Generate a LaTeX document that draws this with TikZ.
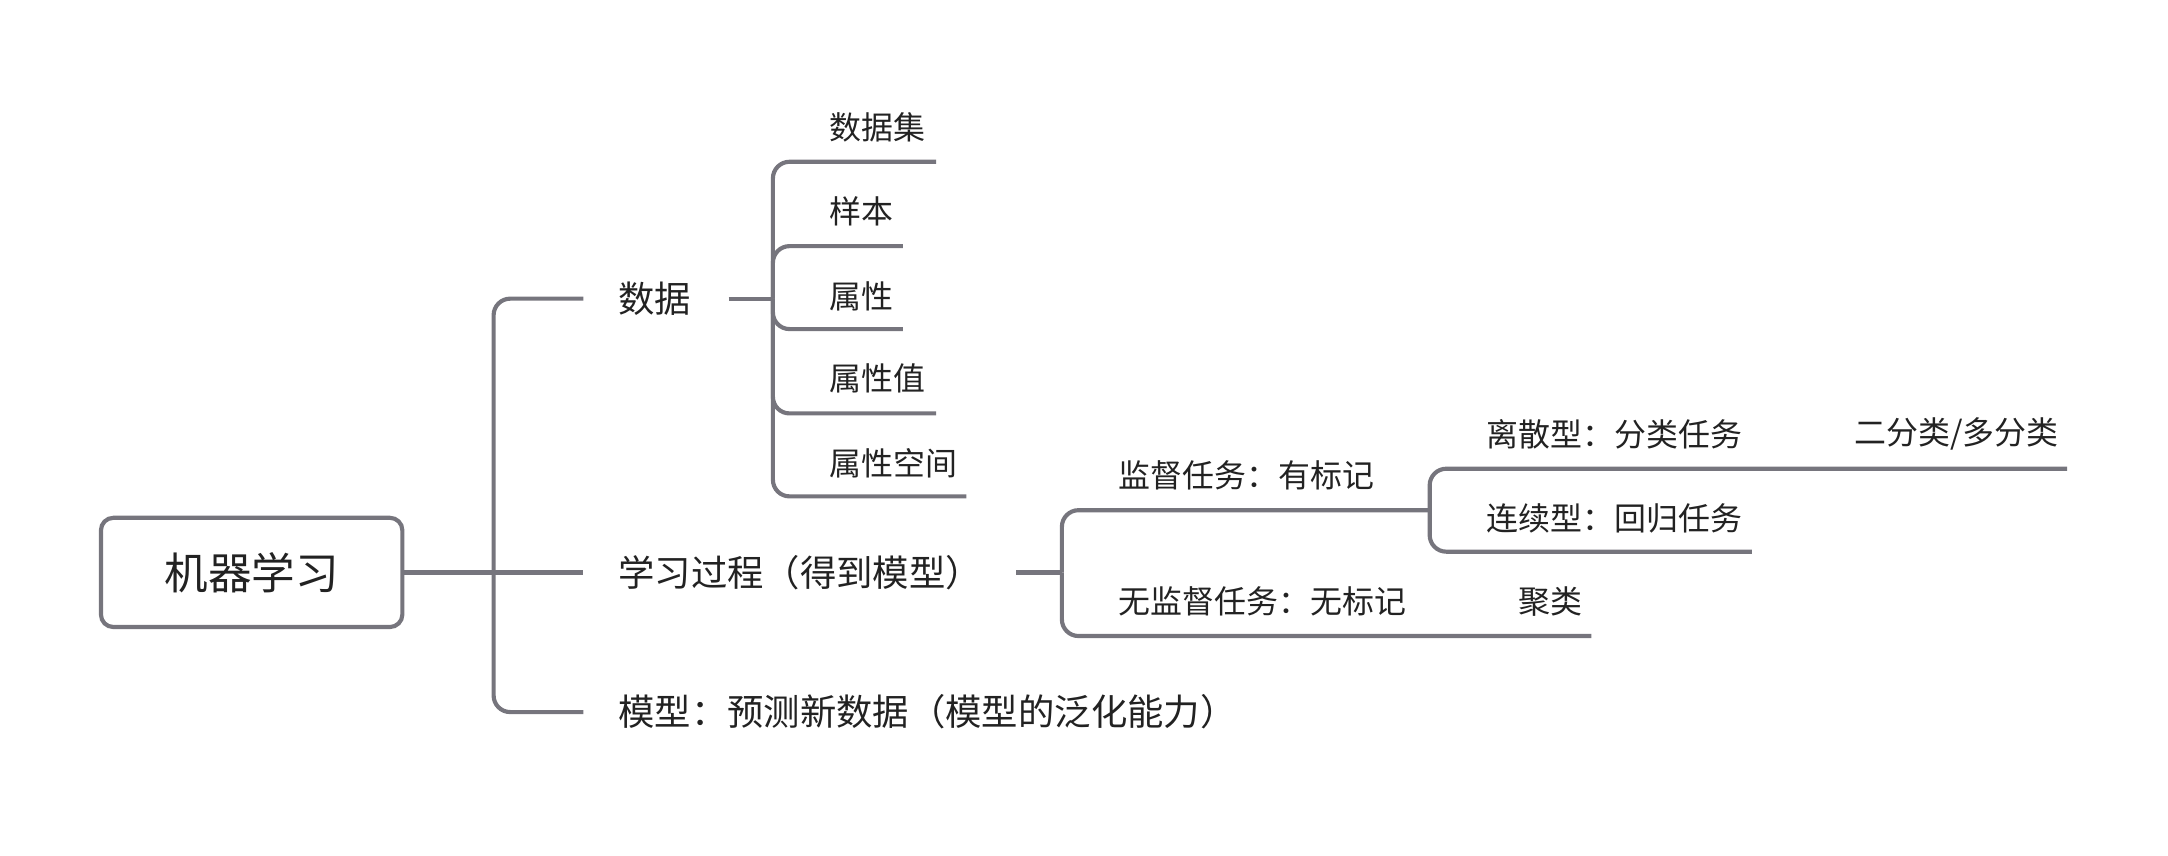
\documentclass[tikz,border=0pt]{standalone}
\usepackage{fontspec}
\setmainfont{Noto Sans CJK SC}
\definecolor{linec}{RGB}{118,117,125}
\definecolor{textc}{RGB}{34,34,34}
\begin{document}
\begin{tikzpicture}[x=1pt,y=-1pt,
  conn/.style={draw=linec,line width=3pt,rounded corners=12pt},
  lab/.style={inner sep=0pt,anchor=west,text=textc,font=\fontsize{23.1}{27}\selectfont},
  labone/.style={lab,font=\fontsize{26.3}{30}\selectfont},
  rootbox/.style={draw=linec,line width=3pt,rounded corners=9pt,minimum width=218pt,minimum height=79pt,inner sep=0pt,text=textc,font=\fontsize{31.5}{36}\selectfont}]
\useasboundingbox (0,0) rectangle (1568,618.4);
% root
\node[rootbox] (root) at (182,414) {机器学习};
% level 1
\node[labone] (data) at (447,216) {数据};
\node[labone] (proc) at (447,414) {学习过程（得到模型）};
\node[labone] (model) at (447,515) {模型：预测新数据（模型的泛化能力）};
\coordinate (j1) at (357,414);
\coordinate (e1) at (422,216);
\coordinate (e2) at (422,414);
\coordinate (e3) at (422,515);
\path[conn] (root.east) -- (e2);
\path[conn] (j1) |- (e1);
\path[conn] (j1) |- (e3);
% data children
\node[lab] (ds) at (600,92) {数据集};
\node[lab] (smp) at (600,153) {样本};
\node[lab] (attr) at (600,214) {属性};
\node[lab] (attrv) at (600,274) {属性值};
\node[lab] (attrs) at (600,335) {属性空间};
\coordinate (d0) at (527,216);
\coordinate (j2) at (559,216);
\coordinate (u1) at (677,117);
\coordinate (u2) at (653,178);
\coordinate (u3) at (653,238);
\coordinate (u4) at (677,299);
\coordinate (u5) at (699,359);
\path[conn] (d0) -- (j2);
\path[conn] (j2) |- (u1);
\path[conn] (j2) |- (u2);
\path[conn] (j2) |- (u3);
\path[conn] (j2) |- (u4);
\path[conn] (j2) |- (u5);
% process children
\node[lab] (sup) at (809,344) {监督任务：有标记};
\node[lab] (unsup) at (809,435) {无监督任务：无标记};
\node[lab] (clu) at (1098,435) {聚类};
\coordinate (p0) at (735,414);
\coordinate (j3) at (768,414);
\coordinate (j4) at (1034,369);
\coordinate (v2) at (1034,460);
\coordinate (v3) at (1151,460);
\path[conn] (p0) -- (j3);
\path[conn] (j3) |- (j4);
\path[conn] (j3) |- (v2) -- (v3);
% supervised children
\node[lab] (disc) at (1075,314) {离散型：分类任务};
\node[lab] (cont) at (1075,375) {连续型：回归任务};
\node[lab] (bin) at (1341,314) {二分类/多分类};
\coordinate (w1) at (1267,339);
\coordinate (w2) at (1267,399);
\coordinate (w3) at (1495,339);
\path[conn] (j4) |- (w1) -- (w3);
\path[conn] (j4) |- (w2);
\end{tikzpicture}
\end{document}
